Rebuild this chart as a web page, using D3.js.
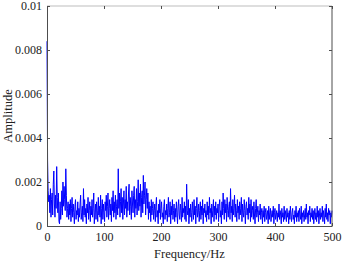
<!DOCTYPE html>
<html>
<head>
<meta charset="utf-8">
<script src="https://cdn.jsdelivr.net/npm/d3@7"></script>
<style>
  body { margin: 0; background: #fff; }
  svg { display: block; font-family: "Liberation Serif", "Times New Roman", serif; }
</style>
</head>
<body>
<div id="chart"></div>
<script>
// Amplitude spectrum, one value per 1 Hz bin, in units of 1e-4
const amp0to99 = [
    84, 30, 16, 11, 14, 6, 17, 4, 12, 15,
    5, 19, 25, 10, 4, 14, 8, 27, 13, 6,
    15, 2, 1, 11, 3, 8, 16, 5, 20, 9,
    18, 12, 7, 26, 14, 4, 8, 11, 3, 10,
    5, 12, 2, 8, 13, 4, 10, 6, 1, 9,
    12, 3, 7, 5, 11, 2, 8, 4, 10, 14,
    3, 6, 9, 2, 17, 5, 12, 4, 8, 1,
    10, 6, 13, 3, 7, 11, 2, 9, 5, 12,
    4, 8, 15, 1, 6, 10, 3, 11, 7, 2,
    13, 5, 9, 4, 14, 1, 8, 12, 3, 10
];
const amp100to199 = [
    6, 2, 11, 7, 14, 4, 9, 15, 3, 8,
    12, 5, 10, 2, 13, 7, 16, 4, 11, 6,
    14, 3, 9, 12, 5, 26, 8, 15, 4, 11,
    17, 6, 13, 3, 10, 16, 5, 12, 8, 18,
    4, 11, 7, 15, 19, 5, 13, 9, 3, 16,
    10, 6, 14, 18, 4, 12, 8, 17, 5, 11,
    21, 7, 15, 9, 19, 4, 13, 16, 6, 23,
    10, 14, 20, 5, 12, 17, 8, 15, 3, 11,
    6, 9, 2, 12, 5, 8, 11, 3, 7, 10,
    2, 9, 13, 4, 7, 1, 10, 6, 12, 3
];
const amp200to299 = [
    8, 11, 4, 6, 1, 9, 12, 3, 7, 5,
    10, 2, 8, 13, 4, 6, 11, 1, 9, 5,
    12, 3, 7, 10, 2, 8, 4, 11, 6, 1,
    9, 12, 5, 3, 10, 7, 2, 13, 4, 8,
    6, 11, 3, 9, 2, 19, 7, 5, 12, 1,
    8, 4, 10, 6, 2, 11, 7, 3, 12, 5,
    9, 1, 8, 13, 4, 6, 10, 2, 7, 11,
    3, 9, 5, 12, 1, 8, 6, 10, 4, 7,
    2, 11, 5, 9, 3, 13, 6, 8, 1, 10,
    4, 7, 12, 2, 9, 5, 11, 3, 8, 6
];
const amp300to399 = [
    10, 2, 9, 12, 4, 7, 1, 11, 5, 15,
    8, 3, 12, 6, 10, 2, 13, 7, 4, 9,
    11, 3, 17, 6, 9, 2, 12, 5, 8, 14,
    4, 10, 7, 2, 12, 6, 9, 3, 11, 5,
    8, 13, 2, 10, 6, 4, 12, 7, 1, 9,
    11, 5, 8, 3, 13, 6, 10, 2, 12, 4,
    7, 9, 3, 11, 5, 1, 8, 12, 4, 6,
    9, 2, 7, 5, 10, 3, 6, 8, 1, 7,
    4, 9, 2, 6, 8, 3, 5, 7, 1, 9,
    3, 6, 8, 2, 5, 7, 4, 9, 1, 6
];
const amp400to500 = [
    8, 3, 5, 7, 2, 6, 4, 10, 3, 7,
    5, 1, 8, 4, 6, 2, 9, 3, 7, 5,
    2, 8, 4, 6, 1, 7, 3, 9, 5, 2,
    6, 8, 3, 5, 1, 7, 4, 9, 2, 6,
    4, 7, 2, 8, 5, 3, 9, 1, 6, 4,
    7, 2, 5, 8, 3, 10, 4, 6, 1, 7,
    5, 9, 2, 6, 4, 8, 3, 7, 1, 5,
    8, 3, 6, 2, 9, 4, 7, 1, 5, 8,
    3, 6, 4, 9, 2, 7, 5, 1, 8, 4,
    10, 3, 6, 2, 8, 5, 7, 1, 6, 4, 7
];

const xTicks = [0, 100, 200, 300, 400, 500];
const yTicks = [0, 0.002, 0.004, 0.006, 0.008, 0.01];
const yTickLabels = ["0", "0.002", "0.004", "0.006", "0.008", "0.01"];

const width = 342, height = 261;
const margin = { top: 6, right: 10, bottom: 35, left: 47 };

const amps = [].concat(amp0to99, amp100to199, amp200to299, amp300to399, amp400to500);
const data = amps.map((a, i) => ({ f: i, a: a * 1e-4 }));

const svg = d3.select("#chart").append("svg")
    .attr("width", width)
    .attr("height", height);

const x = d3.scaleLinear().domain([0, 500]).range([margin.left, width - margin.right]);
const y = d3.scaleLinear().domain([0, 0.01]).range([height - margin.bottom, margin.top]);

// Spectrum line
svg.append("path")
    .datum(data)
    .attr("fill", "none")
    .attr("stroke", "#0000ff")
    .attr("stroke-width", 1)
    .attr("stroke-linejoin", "miter")
    .attr("d", d3.line().x(d => x(d.f)).y(d => y(d.a)));

// Box: top and right edges
svg.append("line")
    .attr("x1", x(0)).attr("x2", x(500))
    .attr("y1", y(0.01)).attr("y2", y(0.01))
    .attr("stroke", "#bdbdbd");
svg.append("line")
    .attr("x1", x(500)).attr("x2", x(500))
    .attr("y1", y(0.01)).attr("y2", y(0))
    .attr("stroke", "#4d4d4d");

// Axes with inward ticks
svg.append("g")
    .attr("transform", `translate(0,${y(0)})`)
    .call(d3.axisBottom(x).tickValues(xTicks).tickSizeInner(-3).tickSizeOuter(0).tickPadding(6));
svg.append("g")
    .attr("transform", `translate(${x(0)},0)`)
    .call(d3.axisLeft(y).tickValues(yTicks).tickFormat((d, i) => yTickLabels[i])
        .tickSizeInner(-3).tickSizeOuter(0).tickPadding(5));

// Mirror ticks on top and right
svg.append("g")
    .attr("transform", `translate(0,${y(0.01)})`)
    .call(d3.axisTop(x).tickValues(xTicks).tickSizeInner(-3).tickSizeOuter(0).tickFormat(""))
    .call(g => g.select(".domain").remove());
svg.append("g")
    .attr("transform", `translate(${x(500)},0)`)
    .call(d3.axisRight(y).tickValues(yTicks).tickSizeInner(-3).tickSizeOuter(0).tickFormat(""))
    .call(g => g.select(".domain").remove());

svg.selectAll(".domain").attr("stroke", "#4d4d4d");
svg.selectAll(".tick line").attr("stroke", "#4d4d4d");
svg.selectAll(".tick text")
    .attr("fill", "#222")
    .style("font-family", "Liberation Serif, serif")
    .style("font-size", "12px");

// Axis titles
svg.append("text")
    .attr("x", x(250))
    .attr("y", 258)
    .attr("text-anchor", "middle")
    .attr("fill", "#222")
    .style("font-size", "12.5px")
    .text("Frequency/Hz");

svg.append("text")
    .attr("transform", `translate(12,${y(0.005)}) rotate(-90)`)
    .attr("text-anchor", "middle")
    .attr("fill", "#222")
    .style("font-size", "12.5px")
    .text("Amplitude");
</script>
</body>
</html>
